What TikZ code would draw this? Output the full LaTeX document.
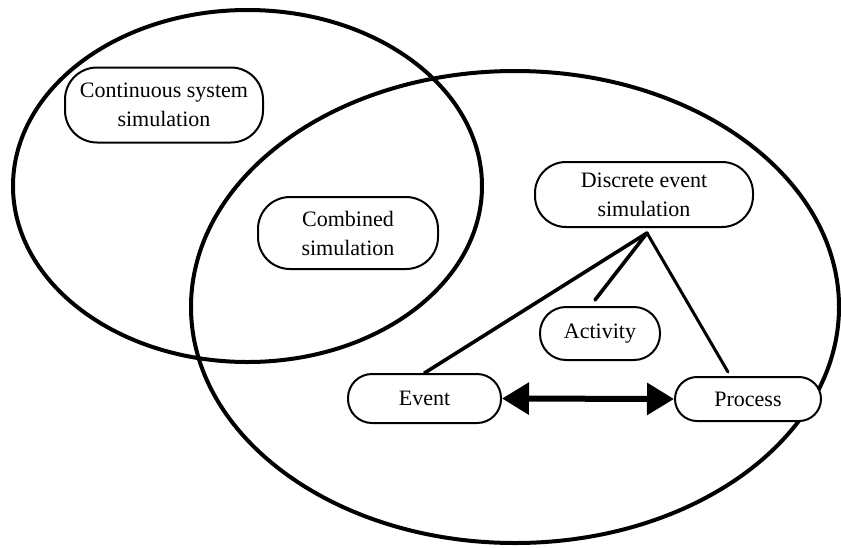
\documentclass[tikz,border=0pt]{standalone}
\usepackage{fontspec}
\setmainfont{Liberation Serif}
\usetikzlibrary{arrows.meta}
\tikzset{
  region/.style={line width=4pt},
  simbox/.style={draw, line width=2pt, fill=white, rounded corners=#1,
    align=center, inner sep=0pt,
    font=\fontsize{22}{29}\selectfont},
  simbox/.default=32pt,
  link/.style={line width=3.6pt, line cap=round},
  flow/.style={line width=6pt,
    {Triangle[length=27pt,width=31pt]}-{Triangle[length=27pt,width=31pt]}}
}
\begin{document}
\begin{tikzpicture}[x=1pt,y=-1pt]
  \useasboundingbox (0,0) rectangle (841,547);

  % the two overlapping areas
  \draw[region] (247.5,186) ellipse [x radius=234.5pt, y radius=176pt];
  \draw[region] (515,307) ellipse [x radius=324pt, y radius=236pt];

  % simulation kinds
  \node[simbox, minimum width=198pt, minimum height=75pt] (cont) at (164,105)
    {Continuous system\\simulation};
  \node[simbox, minimum width=180pt, minimum height=72pt] (comb) at (348,233)
    {Combined\\simulation};
  \node[simbox=31pt, minimum width=218pt, minimum height=65pt] (disc) at (644,194.5)
    {Discrete event\\simulation};
  \node[simbox=26pt, minimum width=120pt, minimum height=53pt] (act) at (600,333.5)
    {Activity};
  \node[simbox=24pt, minimum width=153pt, minimum height=49pt] (ev) at (424.5,398.5)
    {Event};
  \node[simbox=22pt, minimum width=146pt, minimum height=44pt] (pr) at (748,399)
    {Process};

  % world views hanging from discrete event simulation
  \coordinate (apex) at (647,233);
  \coordinate (actend) at (595,300);
  \coordinate (prend) at (728,372);
  \draw[link] (apex) -- (ev.north);
  \draw[link] (apex) -- (actend);
  \draw[link, line width=3pt] (apex) -- (prend);

  % event <-> process
  \draw[flow] (ev.east) -- (pr.west);
\end{tikzpicture}
\end{document}
